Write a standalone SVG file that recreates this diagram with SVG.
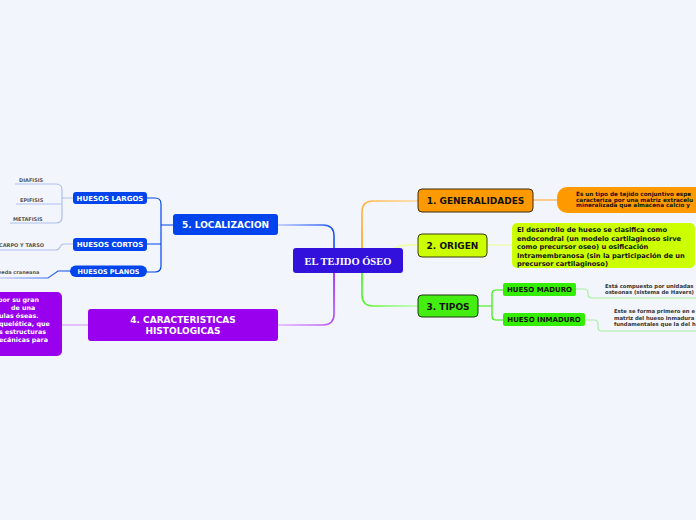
<svg xmlns="http://www.w3.org/2000/svg" width="696" height="520" viewBox="0 0 696 520">
<defs>
<style>
.bg{fill:#f3f5fd}
.t{font-family:"DejaVu Sans",Verdana,sans-serif;font-weight:bold}
.w{fill:#ffffff}
.k{fill:#111111}
.g{fill:#555555}
.c{fill:none;stroke-width:1.5;stroke-linecap:round}
.c1{fill:none;stroke-width:1.2}
</style>
<linearGradient id="gBlue" gradientUnits="userSpaceOnUse" x1="334" y1="248" x2="278" y2="225"><stop offset="0" stop-color="#0044ee"/><stop offset="1" stop-color="#b4c4ff"/></linearGradient>
<linearGradient id="gOr" gradientUnits="userSpaceOnUse" x1="362" y1="248" x2="418" y2="201"><stop offset="0" stop-color="#ff9900"/><stop offset="1" stop-color="#ffd9a0"/></linearGradient>
<linearGradient id="gGr" gradientUnits="userSpaceOnUse" x1="362" y1="273" x2="418" y2="306"><stop offset="0" stop-color="#33ee00"/><stop offset="1" stop-color="#b8ffaa"/></linearGradient>
<linearGradient id="gPu" gradientUnits="userSpaceOnUse" x1="334" y1="273" x2="278" y2="325"><stop offset="0" stop-color="#9900ee"/><stop offset="1" stop-color="#e0b4ff"/></linearGradient>
<linearGradient id="gPl" gradientUnits="userSpaceOnUse" x1="70" y1="271" x2="0" y2="278"><stop offset="0" stop-color="#0044ee"/><stop offset="1" stop-color="#b0c0ee"/></linearGradient>
</defs>
<rect class="bg" x="0" y="0" width="696" height="520"/>

<g id="connectors">
<path class="c" stroke="url(#gBlue)" d="M334,248 V236 Q334,225 323,225 H278"/>
<path class="c" stroke="url(#gOr)" d="M362,248 V212 Q362,201 373,201 H418"/>
<path class="c" stroke="#eeff99" d="M395,248 Q400,245 410,245 H418"/>
<path class="c" stroke="url(#gGr)" d="M362,273 V295 Q362,306 373,306 H418"/>
<path class="c" stroke="url(#gPu)" d="M334,273 V314 Q334,325 323,325 H278"/>
<path class="c1" stroke="#ffb040" d="M533,200 H557"/>
<path class="c1" stroke="#eeff99" d="M487,245 H512"/>
<path class="c1" stroke="#d8a0ff" d="M88,325 H62"/>
<path class="c1" stroke="#0044ee" d="M173,225 H161 M147,198 H155 Q161,198 161,204 V266 Q161,272 155,272 H147 M147,244 H161"/>
<path class="c1" stroke="#b0c0ee" d="M73,198 H62 M15,184 H56 Q62,184 62,190 V217 Q62,223 56,223 H10 M16,204 H62"/>
<path class="c1" stroke="#b0c0ee" d="M73,244 H65 Q61,244 60,247 Q59,250 55,250 H0"/>
<path class="c1" stroke="url(#gPl)" d="M70,271 H58 L48,278 H0"/>
<path class="c1" stroke="#33ee00" d="M478,306 H492 M504,290 H496 Q492,290 492,294 V316 Q492,320 496,320 H504"/>
<path class="c1" stroke="#aaf0a0" d="M576,289 H584 Q588,289 588,293 V294 Q588,298 592,298 H696"/>
<path class="c1" stroke="#aaf0a0" d="M585,320 H594 Q598,320 598,324 V327 Q598,331 602,331 H696"/>
</g>

<g id="center">
<rect x="293" y="248" width="110" height="25" rx="3" fill="#3311dd"/>
<text x="348" y="264.5" text-anchor="middle" font-family="'Liberation Serif','Times New Roman',serif" font-weight="bold" font-size="10.5" fill="#ffffff">EL TEJIDO ÓSEO</text>
</g>

<g id="generalidades">
<rect x="418" y="189" width="115" height="23" rx="4" fill="#ff9900" stroke="#3a2a10" stroke-width="1"/>
<text class="t k" x="475.5" y="204" text-anchor="middle" font-size="9">1. GENERALIDADES</text>
</g>
<g id="generalidades-desc">
<rect x="557" y="187" width="160" height="26" rx="10" fill="#ff9900"/>
<text class="t k" font-size="5.7"><tspan x="576" y="196">Es un tipo de tejido conjuntivo espe</tspan><tspan x="576" y="201.7">caracteriza por una matriz extracelu</tspan><tspan x="576" y="207.4">mineralizada que almacena calcio y</tspan></text>
</g>

<g id="origen">
<rect x="418" y="234" width="69" height="23" rx="4" fill="#ccff00" stroke="#3a3a10" stroke-width="1"/>
<text class="t k" x="452.5" y="249" text-anchor="middle" font-size="9">2. ORIGEN</text>
</g>
<g id="origen-desc">
<rect x="512" y="223" width="183" height="45" rx="5" fill="#ccff00"/>
<text class="t k" font-size="6.7"><tspan x="517" y="232">El desarrollo de hueso se clasifica como</tspan><tspan x="517" y="240.5">endocondral (un modelo cartilaginoso sirve</tspan><tspan x="517" y="249">como precursor oseo) u osificación</tspan><tspan x="517" y="257.5">Intramembranosa (sin la participación de un</tspan><tspan x="517" y="266">precursor cartilaginoso)</tspan></text>
</g>

<g id="tipos">
<rect x="418" y="295" width="60" height="22" rx="4" fill="#44ee11" stroke="#1a3a10" stroke-width="1"/>
<text class="t k" x="448" y="309.5" text-anchor="middle" font-size="9">3. TIPOS</text>
</g>
<g id="hueso-maduro">
<rect x="503" y="283" width="73" height="13" rx="2" fill="#33ee00"/>
<text class="t k" x="539.5" y="292.3" text-anchor="middle" font-size="7">HUESO MADURO</text>
</g>
<g id="hueso-maduro-desc">
<text class="t" fill="#333333" font-size="5.3"><tspan x="605" y="288">Está compuesto por unidadas</tspan><tspan x="605" y="294">osteonas (sistema de Havers)</tspan></text>
</g>
<g id="hueso-inmaduro">
<rect x="503" y="313" width="82" height="13" rx="2" fill="#33ee00"/>
<text class="t k" x="544" y="322.3" text-anchor="middle" font-size="7">HUESO INMADURO</text>
</g>
<g id="hueso-inmaduro-desc">
<text class="t" fill="#333333" font-size="5.3"><tspan x="614" y="313">Este se forma primero en e</tspan><tspan x="614" y="319.5">matriz del hueso inmadura</tspan><tspan x="614" y="326">fundamentales que la del h</tspan></text>
</g>

<g id="localizacion">
<rect x="173" y="214" width="105" height="21" rx="3" fill="#0044ee"/>
<text class="t w" x="225.5" y="228" text-anchor="middle" font-size="9">5. LOCALIZACION</text>
</g>
<g id="huesos-largos">
<rect x="73" y="192" width="74" height="12" rx="3" fill="#0044ee"/>
<text class="t w" x="110" y="200.5" text-anchor="middle" font-size="7">HUESOS LARGOS</text>
</g>
<g id="diafisis"><text class="t g" x="19" y="181.5" font-size="5">DIAFISIS</text></g>
<g id="epifisis"><text class="t g" x="20" y="201.5" font-size="5">EPIFISIS</text></g>
<g id="metafisis"><text class="t g" x="13" y="220.5" font-size="5">METAFISIS</text></g>
<g id="huesos-cortos">
<rect x="73" y="238" width="74" height="13" rx="3" fill="#0044ee"/>
<text class="t w" x="110" y="247" text-anchor="middle" font-size="7">HUESOS CORTOS</text>
</g>
<g id="carpo"><text class="t g" x="-1" y="246.5" font-size="5">CARPO Y TARSO</text></g>
<g id="huesos-planos">
<rect x="70" y="265.5" width="77" height="11.5" rx="5.75" fill="#0044ee"/>
<text class="t w" x="108.5" y="273.8" text-anchor="middle" font-size="6.5">HUESOS PLANOS</text>
</g>
<g id="boveda"><text class="t g" x="-9" y="273.5" font-size="5">bóveda craneana</text></g>

<g id="caracteristicas">
<rect x="88" y="309" width="190" height="32" rx="3" fill="#9900ee"/>
<text class="t w" font-size="9" text-anchor="middle"><tspan x="183" y="323">4. CARACTERISTICAS</tspan><tspan x="183" y="334">HISTOLOGICAS</tspan></text>
</g>
<g id="caracteristicas-desc">
<rect x="-12" y="292" width="74" height="64" rx="5" fill="#9900ee"/>
<text class="t w" font-size="6.3"><tspan x="-2" y="302">por su gran</tspan><tspan x="11" y="310">de una</tspan><tspan x="-1" y="318">ulas óseas.</tspan><tspan x="-1" y="326">quelética, que</tspan><tspan x="-1" y="334">s estructuras</tspan><tspan x="-1" y="342">ecánicas para</tspan></text>
</g>
</svg>
